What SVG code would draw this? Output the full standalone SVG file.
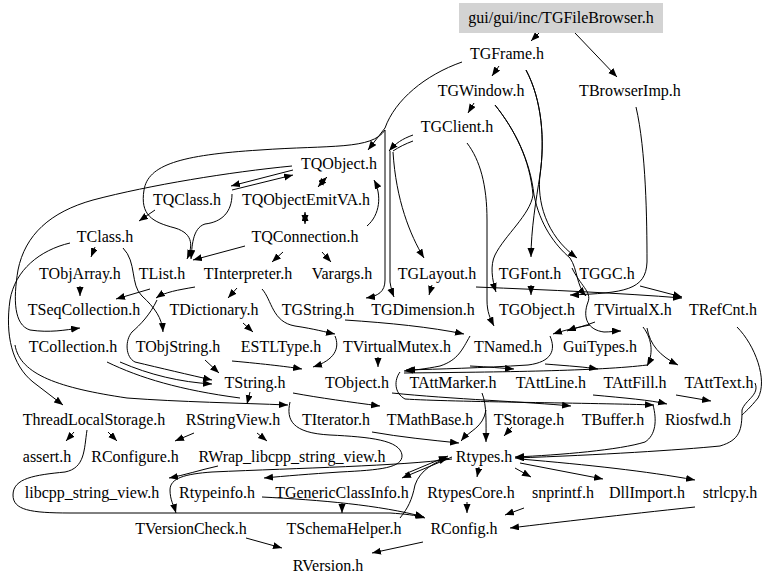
<svg xmlns="http://www.w3.org/2000/svg" width="768" height="585" viewBox="0 0 768 585">
<style>
text{font-family:"Liberation Serif","Times New Roman",serif;font-size:16px;fill:#000;text-anchor:middle}
.e{fill:none;stroke:#000;stroke-width:1}
.a{marker-end:url(#arr)}
</style>
<defs>
<marker id="arr" markerUnits="userSpaceOnUse" markerWidth="10" markerHeight="8" refX="9" refY="3.5" orient="auto">
<path d="M0,0 L9,3.5 L0,7 z" fill="#000"/>
</marker>
</defs>
<rect width="768" height="585" fill="#fff"/>
<g id="edges">
<path class="e a" d="M539,33 L531,41"/>
<path class="e a" d="M575,33 L617,77"/>
<path class="e a" d="M499,66 L492,76"/>
<path class="e a" d="M474,103 L468,113"/>
<path class="e a" d="M462,62 C425,75 395,100 385,128 L368,150"/>
<path class="e a" d="M413,135 C402,139 396,143 389,151"/>
<path class="e" d="M413,141 C405,144 399,147 393,151"/>
<path class="e a" d="M385,130 C372,150 330,145 260,150 C180,155 148,165 144,190 C140,215 152,222 175,228 C195,234 192,248 187,259"/>
<path class="e a" d="M232,194 C232,212 222,222 205,224 C192,228 192,248 191,259"/>
<path class="e a" d="M293,170 L231,186"/>
<path class="e a" d="M232,190 L293,175"/>
<path class="e a" d="M324,180 L318,187"/>
<path class="e a" d="M320,184 L327,177"/>
<path class="e a" d="M305,217 L305,224"/>
<path class="e a" d="M305,219 L305,212"/>
<path class="e a" d="M292,166 C230,172 150,185 93,200 C50,212 25,235 18,270 C13,300 14,325 30,330 C50,333 65,330 80,328"/>
<path class="e a" d="M245,246 L193,260"/>
<path class="e a" d="M283,252 L272,262"/>
<path class="e a" d="M322,252 L331,262"/>
<path class="e a" d="M155,210 L139,221"/>
<path class="e a" d="M367,226 C380,215 382,195 374,180"/>
<path class="e a" d="M385,130 L385,280 C385,292 378,296 366,298"/>
<path class="e a" d="M390,151 L390,282 C391,288 392,292 394,297"/>
<path class="e a" d="M393,152 C396,200 410,235 424,258"/>
<path class="e a" d="M526,70 C542,100 545,140 540,175 C536,200 531,230 531,257"/>
<path class="e a" d="M526,70 C542,100 545,140 540,175 C537,200 545,235 577,258"/>
<path class="e a" d="M495,105 C515,130 530,160 533,195 C530,215 505,235 495,255 C490,265 492,280 496,292"/>
<path class="e a" d="M495,105 C515,130 530,160 534,195 C540,225 555,245 570,258 C578,270 576,285 586,296"/>
<path class="e a" d="M572,268 C580,285 592,292 588,302 C582,318 588,330 604,332 C611,332 615,331 621,331"/>
<path class="e a" d="M467,143 C480,160 487,185 487,220 L487,300 C487,312 490,318 494,326"/>
<path class="e a" d="M636,107 C646,150 647,220 647,262 C646,290 625,293 570,295"/>
<path class="e a" d="M476,287 C550,290 620,293 682,298"/>
<path class="e a" d="M640,286 L682,297"/>
<path class="e a" d="M432,285 L429,295"/>
<path class="e a" d="M531,285 L531,295"/>
<path class="e a" d="M590,325 C575,328 565,330 553,334"/>
<path class="e a" d="M595,322 C585,326 575,328 567,331"/>
<path class="e a" d="M345,320 C390,323 430,327 464,334"/>
<path class="e a" d="M95,247 L91,257"/>
<path class="e a" d="M123,248 C137,262 130,285 142,296 C155,308 162,318 163,332"/>
<path class="e a" d="M70,243 C40,250 15,270 10,300 C5,335 12,365 33,382 L63,405"/>
<path class="e a" d="M15,345 C20,375 60,388 127,398 C180,402 240,403 288,405"/>
<path class="e" d="M107,362 C140,378 180,390 240,398"/>
<path class="e a" d="M80,286 L80,296"/>
<path class="e a" d="M150,289 L116,299"/>
<path class="e a" d="M195,287 C178,290 165,292 156,298"/>
<path class="e a" d="M157,300 C150,315 140,325 132,332 C125,340 125,357 135,362 C160,368 190,375 212,380"/>
<path class="e a" d="M237,288 L228,298"/>
<path class="e a" d="M243,323 L253,332"/>
<path class="e a" d="M262,289 C272,300 272,322 295,326 C315,329 325,332 335,334"/>
<path class="e a" d="M120,362 C150,375 180,382 212,384"/>
<path class="e a" d="M205,360 L219,373"/>
<path class="e a" d="M335,336 C340,348 335,360 313,367"/>
<path class="e a" d="M232,361 C265,364 290,367 302,369"/>
<path class="e a" d="M378,357 L378,367"/>
<path class="e a" d="M470,336 C462,350 458,360 440,366 C425,369 415,370 404,371"/>
<path class="e" d="M647,365 C600,371 500,372 404,373"/>
<path class="e a" d="M550,336 C556,350 552,362 528,365 C480,368 440,369 406,370"/>
<path class="e a" d="M643,327 C653,340 653,355 647,366"/>
<path class="e a" d="M647,328 C650,345 660,356 678,365"/>
<path class="e a" d="M470,366 C490,367 500,368 514,369"/>
<path class="e a" d="M545,364 C570,366 585,367 598,369"/>
<path class="e a" d="M400,372 C394,380 394,393 405,399 C450,402 600,403 654,405"/>
<path class="e a" d="M392,393 C450,399 530,402 571,406"/>
<path class="e a" d="M593,395 C625,398 650,400 667,404"/>
<path class="e a" d="M676,395 L711,401"/>
<path class="e a" d="M293,393 C320,398 350,402 380,406"/>
<path class="e a" d="M250,392 L247,404"/>
<path class="e a" d="M482,393 C487,405 486,425 486,442"/>
<path class="e a" d="M512,427 L504,436"/>
<path class="e a" d="M486,410 C483,428 470,430 461,441"/>
<path class="e a" d="M290,402 C286,420 292,433 330,435 C370,437 400,440 402,455 C403,468 380,470 340,472 C310,474 285,476 264,478"/>
<path class="e a" d="M372,432 C400,437 430,440 459,443"/>
<path class="e a" d="M653,405 C657,420 656,435 645,442 C620,450 560,455 515,457"/>
<path class="e a" d="M755,383 C760,395 745,400 742,410 C742,430 740,440 720,446 C680,450 600,455 515,458"/>
<path class="e" d="M737,327 C755,345 768,380 758,398 C750,408 745,412 742,415"/>
<path class="e a" d="M479,467 L477,477"/>
<path class="e a" d="M515,468 L531,477"/>
<path class="e a" d="M520,463 L603,479"/>
<path class="e a" d="M520,459 C590,465 645,471 695,480"/>
<path class="e a" d="M452,457 L402,478"/>
<path class="e a" d="M405,474 L448,456"/>
<path class="e a" d="M400,518 C408,508 412,500 415,485 C420,470 435,462 448,458"/>
<path class="e a" d="M452,459 C400,466 300,468 212,472 C185,474 170,478 170,490 C170,500 174,506 176,513"/>
<path class="e a" d="M218,466 C200,470 185,475 169,478"/>
<path class="e a" d="M74,432 L66,441"/>
<path class="e a" d="M108,432 L117,441"/>
<path class="e a" d="M194,433 L175,441"/>
<path class="e a" d="M257,433 L267,441"/>
<path class="e a" d="M87,430 C84,450 85,468 65,472 C35,475 13,478 13,495 C13,510 30,513 70,513 L390,513 C405,514 415,515 425,518"/>
<path class="e a" d="M262,497 C320,500 380,505 424,517"/>
<path class="e a" d="M342,503 L342,513"/>
<path class="e a" d="M467,502 L467,513"/>
<path class="e a" d="M524,508 L505,515"/>
<path class="e a" d="M695,507 C620,515 560,522 510,528"/>
<path class="e a" d="M246,538 L282,548"/>
<path class="e a" d="M423,542 L372,553"/>
</g>
<g id="TGFileBrowser"><rect x="459" y="3" width="204" height="30" fill="#d3d3d3"/><text x="561" y="23">gui/gui/inc/TGFileBrowser.h</text></g>
<g id="TGFrame"><text x="507" y="59">TGFrame.h</text></g>
<g id="TBrowserImp"><text x="630" y="96">TBrowserImp.h</text></g>
<g id="TGWindow"><text x="481" y="96">TGWindow.h</text></g>
<g id="TGClient"><text x="457" y="132">TGClient.h</text></g>
<g id="TQObject"><text x="339" y="169">TQObject.h</text></g>
<g id="TQClass"><text x="187" y="205">TQClass.h</text></g>
<g id="TQObjectEmitVA"><text x="306" y="205">TQObjectEmitVA.h</text></g>
<g id="TClass"><text x="105" y="242">TClass.h</text></g>
<g id="TQConnection"><text x="305" y="242">TQConnection.h</text></g>
<g id="TObjArray"><text x="80" y="279">TObjArray.h</text></g>
<g id="TList"><text x="162" y="279">TList.h</text></g>
<g id="TInterpreter"><text x="248" y="279">TInterpreter.h</text></g>
<g id="Varargs"><text x="342" y="279">Varargs.h</text></g>
<g id="TGLayout"><text x="437" y="279">TGLayout.h</text></g>
<g id="TGFont"><text x="530" y="279">TGFont.h</text></g>
<g id="TGGC"><text x="607" y="279">TGGC.h</text></g>
<g id="TSeqCollection"><text x="84" y="315">TSeqCollection.h</text></g>
<g id="TDictionary"><text x="214" y="315">TDictionary.h</text></g>
<g id="TGString"><text x="318" y="315">TGString.h</text></g>
<g id="TGDimension"><text x="423" y="315">TGDimension.h</text></g>
<g id="TGObject"><text x="537" y="315">TGObject.h</text></g>
<g id="TVirtualX"><text x="633" y="315">TVirtualX.h</text></g>
<g id="TRefCnt"><text x="723" y="315">TRefCnt.h</text></g>
<g id="TCollection"><text x="73" y="352">TCollection.h</text></g>
<g id="TObjString"><text x="178" y="352">TObjString.h</text></g>
<g id="ESTLType"><text x="281" y="352">ESTLType.h</text></g>
<g id="TVirtualMutex"><text x="397" y="352">TVirtualMutex.h</text></g>
<g id="TNamed"><text x="508" y="352">TNamed.h</text></g>
<g id="GuiTypes"><text x="600" y="352">GuiTypes.h</text></g>
<g id="TString"><text x="255" y="388">TString.h</text></g>
<g id="TObject"><text x="357" y="388">TObject.h</text></g>
<g id="TAttMarker"><text x="453" y="388">TAttMarker.h</text></g>
<g id="TAttLine"><text x="551" y="388">TAttLine.h</text></g>
<g id="TAttFill"><text x="635" y="388">TAttFill.h</text></g>
<g id="TAttText"><text x="719" y="388">TAttText.h</text></g>
<g id="ThreadLocalStorage"><text x="94" y="425">ThreadLocalStorage.h</text></g>
<g id="RStringView"><text x="233" y="425">RStringView.h</text></g>
<g id="TIterator"><text x="336" y="425">TIterator.h</text></g>
<g id="TMathBase"><text x="430" y="425">TMathBase.h</text></g>
<g id="TStorage"><text x="529" y="425">TStorage.h</text></g>
<g id="TBuffer"><text x="613" y="425">TBuffer.h</text></g>
<g id="Riosfwd"><text x="698" y="425">Riosfwd.h</text></g>
<g id="assert"><text x="47" y="462">assert.h</text></g>
<g id="RConfigure"><text x="135" y="462">RConfigure.h</text></g>
<g id="RWrap"><text x="292" y="462">RWrap_libcpp_string_view.h</text></g>
<g id="Rtypes"><text x="484" y="462">Rtypes.h</text></g>
<g id="libcpp"><text x="92" y="498">libcpp_string_view.h</text></g>
<g id="Rtypeinfo"><text x="217" y="498">Rtypeinfo.h</text></g>
<g id="TGenericClassInfo"><text x="342" y="498">TGenericClassInfo.h</text></g>
<g id="RtypesCore"><text x="471" y="498">RtypesCore.h</text></g>
<g id="snprintf"><text x="563" y="498">snprintf.h</text></g>
<g id="DllImport"><text x="647" y="498">DllImport.h</text></g>
<g id="strlcpy"><text x="730" y="498">strlcpy.h</text></g>
<g id="TVersionCheck"><text x="191" y="534">TVersionCheck.h</text></g>
<g id="TSchemaHelper"><text x="344" y="534">TSchemaHelper.h</text></g>
<g id="RConfig"><text x="464" y="534">RConfig.h</text></g>
<g id="RVersion"><text x="328" y="571">RVersion.h</text></g>
</svg>
